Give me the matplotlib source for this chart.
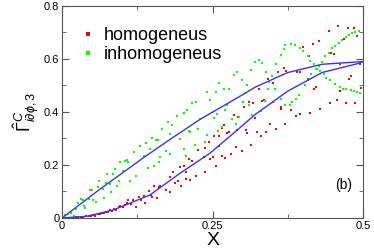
import numpy as np
import matplotlib
matplotlib.use('Agg')
import matplotlib.pyplot as plt
from matplotlib.ticker import MultipleLocator

plt.rcParams['font.family'] = ['Liberation Sans', 'DejaVu Sans']
plt.rcParams['mathtext.fontset'] = 'custom'
plt.rcParams['mathtext.rm'] = 'Liberation Sans'
plt.rcParams['mathtext.it'] = 'Liberation Sans:italic'

# homogeneus (red dots)
hom_x = [0.002, 0.007, 0.010, 0.015, 0.019, 0.023, 0.027, 0.031, 0.035, 0.040, 0.044, 0.048,
         0.052, 0.055, 0.059, 0.063, 0.066, 0.070, 0.073, 0.077, 0.080, 0.083, 0.086, 0.090,
         0.094, 0.096, 0.101, 0.105, 0.107, 0.110, 0.114, 0.118, 0.123,
         0.244, 0.226, 0.238, 0.235, 0.210, 0.216, 0.195, 0.202, 0.246, 0.184, 0.205, 0.223,
         0.238, 0.179, 0.192, 0.188, 0.206, 0.213, 0.152, 0.161, 0.163, 0.198, 0.173, 0.180,
         0.144, 0.147, 0.136, 0.127, 0.131, 0.138, 0.150, 0.157,
         0.368, 0.359, 0.372, 0.342, 0.350, 0.327, 0.335, 0.332, 0.350, 0.310, 0.317, 0.302,
         0.364, 0.363, 0.285, 0.320, 0.292, 0.371, 0.346, 0.355, 0.269, 0.266, 0.305, 0.307,
         0.277, 0.274, 0.324, 0.339, 0.331, 0.260, 0.252, 0.291, 0.261, 0.314, 0.288, 0.298,
         0.281, 0.266, 0.271, 0.250, 0.255,
         0.458, 0.475, 0.485, 0.443, 0.490, 0.468, 0.417, 0.426, 0.400, 0.410, 0.446, 0.451,
         0.395, 0.390, 0.462, 0.494, 0.408, 0.479, 0.476, 0.422, 0.419, 0.461, 0.496, 0.456,
         0.445, 0.471, 0.487, 0.380, 0.395, 0.388, 0.412, 0.429]
hom_y = [0.000, 0.000, 0.000, 0.000, 0.001, 0.003, 0.004, 0.005, 0.005, 0.006, 0.008, 0.009,
         0.011, 0.009, 0.014, 0.015, 0.018, 0.020, 0.023, 0.024, 0.030, 0.027, 0.033, 0.030,
         0.043, 0.045, 0.040, 0.049, 0.056, 0.068, 0.053, 0.068, 0.043,
         0.287, 0.258, 0.264, 0.229, 0.222, 0.216, 0.191, 0.197, 0.224, 0.172, 0.172, 0.159,
         0.172, 0.154, 0.141, 0.131, 0.147, 0.144, 0.121, 0.116, 0.121, 0.119, 0.106, 0.097,
         0.100, 0.087, 0.083, 0.081, 0.066, 0.056, 0.078, 0.077,
         0.567, 0.549, 0.555, 0.523, 0.508, 0.485, 0.445, 0.441, 0.437, 0.437, 0.435, 0.418,
         0.420, 0.412, 0.387, 0.378, 0.382, 0.353, 0.356, 0.334, 0.349, 0.340, 0.331, 0.321,
         0.324, 0.321, 0.325, 0.325, 0.308, 0.311, 0.308, 0.331, 0.273, 0.277, 0.268, 0.251,
         0.241, 0.235, 0.226, 0.232, 0.195,
         0.725, 0.717, 0.717, 0.706, 0.687, 0.675, 0.658, 0.666, 0.646, 0.612, 0.621, 0.618,
         0.549, 0.549, 0.580, 0.580, 0.526, 0.536, 0.526, 0.495, 0.488, 0.479, 0.492, 0.445,
         0.435, 0.432, 0.435, 0.409, 0.394, 0.384, 0.397, 0.412]

# inhomogeneus (green dots)
inh_x = [0.005, 0.010, 0.014, 0.020, 0.023, 0.027, 0.031, 0.034, 0.037, 0.038, 0.044, 0.047,
         0.049, 0.052, 0.056, 0.059, 0.062, 0.068, 0.069, 0.073, 0.075, 0.079, 0.081, 0.084,
         0.088, 0.091, 0.095, 0.097, 0.101, 0.105, 0.107, 0.110, 0.113, 0.120, 0.123,
         0.240, 0.223, 0.216, 0.245, 0.208, 0.202, 0.191, 0.229, 0.176, 0.183, 0.166, 0.210,
         0.213, 0.226, 0.180, 0.150, 0.156, 0.159, 0.195, 0.140, 0.130, 0.146, 0.172, 0.179,
         0.202, 0.220, 0.241, 0.238, 0.136, 0.162, 0.206, 0.152, 0.143, 0.161,
         0.371, 0.368, 0.363, 0.327, 0.320, 0.332, 0.355, 0.314, 0.339, 0.349, 0.291, 0.285,
         0.298, 0.343, 0.261, 0.307, 0.269, 0.277, 0.256, 0.354, 0.342, 0.303, 0.363, 0.300,
         0.311, 0.274, 0.371, 0.337, 0.331, 0.271, 0.257, 0.252, 0.316, 0.293, 0.282, 0.265,
         0.259, 0.288,
         0.380, 0.386, 0.395, 0.400, 0.408, 0.412, 0.419, 0.424, 0.428, 0.435, 0.439, 0.445,
         0.454, 0.461, 0.467, 0.472, 0.479, 0.485, 0.490, 0.494,
         0.378, 0.382, 0.388, 0.393, 0.404, 0.408, 0.414, 0.421, 0.426, 0.432, 0.437, 0.443,
         0.449, 0.454, 0.460, 0.465, 0.471, 0.476, 0.482, 0.487, 0.493]
inh_y = [0.011, 0.015, 0.018, 0.008, 0.035, 0.058, 0.071, 0.068, 0.045, 0.037, 0.072, 0.104,
         0.104, 0.068, 0.062, 0.116, 0.140, 0.109, 0.075, 0.131, 0.166, 0.128, 0.097, 0.167,
         0.186, 0.121, 0.140, 0.211, 0.176, 0.216, 0.217, 0.213, 0.140, 0.249, 0.159,
         0.475, 0.439, 0.432, 0.445, 0.406, 0.397, 0.384, 0.374, 0.363, 0.349, 0.336, 0.327,
         0.326, 0.334, 0.317, 0.300, 0.296, 0.296, 0.298, 0.283, 0.270, 0.260, 0.251, 0.241,
         0.260, 0.277, 0.315, 0.286, 0.233, 0.230, 0.233, 0.195, 0.188, 0.210,
         0.652, 0.637, 0.614, 0.596, 0.589, 0.583, 0.580, 0.557, 0.552, 0.536, 0.549, 0.538,
         0.521, 0.514, 0.511, 0.500, 0.485, 0.485, 0.477, 0.488, 0.488, 0.473, 0.450, 0.437,
         0.425, 0.426, 0.425, 0.441, 0.403, 0.409, 0.394, 0.378, 0.387, 0.382, 0.374, 0.344,
         0.327, 0.353,
         0.658, 0.653, 0.640, 0.631, 0.612, 0.593, 0.580, 0.564, 0.555, 0.542, 0.530, 0.521,
         0.504, 0.495, 0.488, 0.485, 0.482, 0.479, 0.475, 0.470,
         0.428, 0.437, 0.450, 0.463, 0.500, 0.521, 0.542, 0.561, 0.574, 0.587, 0.612, 0.624,
         0.640, 0.650, 0.662, 0.672, 0.684, 0.691, 0.698, 0.703, 0.706]

# blue curves
up_x = [0.0, 0.063, 0.138, 0.179, 0.229, 0.296, 0.321, 0.375, 0.432, 0.492, 0.5]
up_y = [0.0, 0.109, 0.232, 0.296, 0.372, 0.460, 0.494, 0.549, 0.580, 0.589, 0.59]
lo_x = [0.0, 0.04, 0.085, 0.146, 0.196, 0.246, 0.292, 0.321, 0.375, 0.432, 0.492, 0.5]
lo_y = [0.0, 0.006, 0.030, 0.087, 0.169, 0.245, 0.334, 0.391, 0.479, 0.549, 0.583, 0.59]

fig = plt.figure(figsize=(3.74, 2.48), dpi=100)
ax = fig.add_axes([0.166, 0.121, 0.805, 0.855])

ax.plot(hom_x, hom_y, 's', color='#ff0000', markersize=1.8, markeredgewidth=0, label='homogeneus')
ax.plot(inh_x, inh_y, 's', color='#00ff00', markersize=1.8, markeredgewidth=0, label='inhomogeneus')
ax.plot(up_x, up_y, '-', color='#3333ff', lw=1)
ax.plot(lo_x, lo_y, '-', color='#3333ff', lw=1)

ax.set_xlim(0, 0.5)
ax.set_ylim(0, 0.8)
ax.set_xticks([0, 0.25, 0.5])
ax.set_xticklabels(['0', '0.25', '0.5'])
ax.set_yticks([0, 0.2, 0.4, 0.6, 0.8])
ax.set_yticklabels(['0', '0.2', '0.4', '0.6', '0.8'])
ax.xaxis.set_minor_locator(MultipleLocator(0.125))
ax.yaxis.set_minor_locator(MultipleLocator(0.1))
ax.tick_params(which='both', direction='in', top=True, right=True, labelsize=8,
               color='#555555', pad=2)
ax.tick_params(which='major', length=5)
ax.tick_params(which='minor', length=3)
for s in ax.spines.values():
    s.set_color('#555555')

ax.set_xlabel('X', fontsize=14, labelpad=1)
ax.set_ylabel(r'$\hat{\Gamma}^{C}_{i\partial\phi,3}$', fontsize=13, labelpad=2)
ax.text(0.467, 0.125, '(b)', fontsize=10, ha='center', va='center')

ax.legend(loc='upper left', frameon=False, fontsize=13, markerscale=1.3,
          handlelength=0.6, handletextpad=0.6, borderaxespad=0.3,
          labelspacing=0.1, bbox_to_anchor=(0.025, 0.96))

fig.savefig('out.png', dpi=100)
